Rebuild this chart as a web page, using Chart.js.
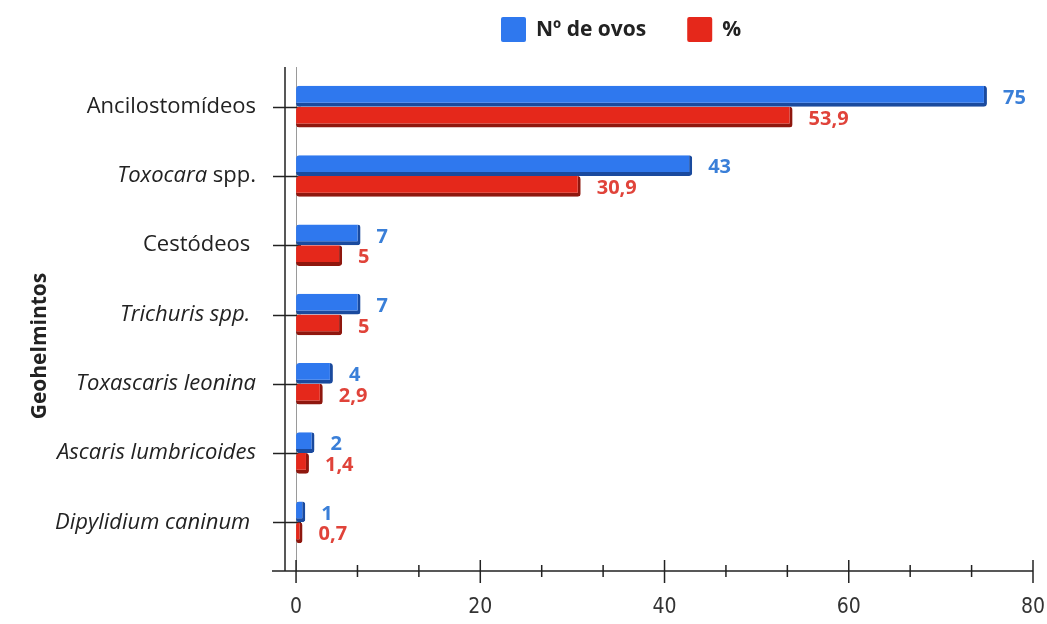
<!DOCTYPE html>
<html>
<head>
<meta charset="utf-8">
<script src="https://cdn.jsdelivr.net/npm/chart.js@4.4.1/dist/chart.umd.min.js"></script>
<style>
  html, body { margin: 0; padding: 0; background: #fff; }
  #wrap { width: 1047px; height: 624px; position: relative; }
</style>
</head>
<body>
<div id="wrap"><canvas id="chart"></canvas></div>
<script>
// datos del gráfico
// *texto* = cursiva
const categories = [
    'Ancilostomídeos',
    '*Toxocara* spp.',
    'Cestódeos ',
    '*Trichuris spp.* ',
    '*Toxascaris leonina*',
    '*Ascaris lumbricoides*',
    '*Dipylidium caninum* '
];
const ovos = [75, 43, 7, 7, 4, 2, 1];
const percent = [53.9, 30.9, 5, 5, 2.9, 1.4, 0.7];
const seriesNames = ['Nº de ovos', '%'];
const axisTitle = 'Geohelmintos';
const xTicks = [0, 20, 40, 60, 80];

const azul = '#2f78ee';
const azulOscuro = '#1a4a9e';
const rojo = '#e5281b';
const rojoOscuro = '#8f170e';
const azulTexto = '#3a7fd8';
const rojoTexto = '#e0433a';
const fontSans = '"Open Sans", "Noto Sans", sans-serif';
const fontNum = '"Liberation Sans Narrow", "DejaVu Sans Condensed", Roboto, sans-serif';

const fmt = v => String(v).replace('.', ',');

const customDraw = {
    id: 'customDraw',
    beforeDatasetsDraw(chart) {
        const { ctx, chartArea } = chart;
        const x = chart.scales.x;
        const y = chart.scales.y;
        ctx.save();
        // línea gris del cero
        const zx = Math.round(x.getPixelForValue(0)) + 0.5;
        ctx.strokeStyle = '#9a9a9a';
        ctx.lineWidth = 1;
        ctx.beginPath();
        ctx.moveTo(zx, chartArea.top - 5);
        ctx.lineTo(zx, chartArea.bottom + 14);
        ctx.stroke();
        // marcas de categoría
        ctx.strokeStyle = '#222';
        ctx.lineWidth = 1.5;
        categories.forEach((c, i) => {
            const py = Math.round(y.getPixelForValue(i)) + 0.5;
            ctx.beginPath();
            ctx.moveTo(chartArea.left - 12, py);
            ctx.lineTo(chartArea.left + 16, py);
            ctx.stroke();
        });
        ctx.restore();
    },
    afterDraw(chart) {
        const { ctx, chartArea } = chart;
        const x = chart.scales.x;
        const y = chart.scales.y;
        ctx.save();

        // ejes
        const axisY = chartArea.bottom + 14;
        ctx.strokeStyle = '#222';
        ctx.lineWidth = 1.5;
        ctx.beginPath();
        ctx.moveTo(chartArea.left, chartArea.top - 5);
        ctx.lineTo(chartArea.left, axisY);
        ctx.moveTo(chartArea.left - 13, axisY);
        ctx.lineTo(chartArea.right, axisY);
        ctx.stroke();

        // marcas mayores y menores del eje x
        xTicks.forEach((t, i) => {
            const px = x.getPixelForValue(t);
            ctx.beginPath();
            ctx.moveTo(px, axisY - 11);
            ctx.lineTo(px, axisY + 12);
            ctx.stroke();
            if (i < xTicks.length - 1) {
                const step = (xTicks[i + 1] - t) / 3;
                for (let k = 1; k < 3; k++) {
                    const mx = x.getPixelForValue(t + k * step);
                    ctx.beginPath();
                    ctx.moveTo(mx, axisY - 6);
                    ctx.lineTo(mx, axisY + 6);
                    ctx.stroke();
                }
            }
        });

        // etiquetas de categoría (cursiva parcial)
        ctx.fillStyle = '#222';
        ctx.textBaseline = 'middle';
        categories.forEach((c, i) => {
            const py = y.getPixelForValue(i);
            const parts = c.split('*').map((t, k) => ({ text: t, italic: k % 2 === 1 })).filter(p => p.text);
            const fontOf = p => `${p.italic ? 'italic ' : ''}22px ${fontSans}`;
            let total = 0;
            parts.forEach(p => { ctx.font = fontOf(p); total += ctx.measureText(p.text).width; });
            let px = 256 - total;
            ctx.textAlign = 'left';
            parts.forEach(p => {
                ctx.font = fontOf(p);
                ctx.fillText(p.text, px, py);
                px += ctx.measureText(p.text).width;
            });
        });

        // título del eje y
        ctx.save();
        ctx.translate(40, 346);
        ctx.rotate(-Math.PI / 2);
        ctx.font = `bold 21px ${fontSans}`;
        ctx.textAlign = 'center';
        ctx.fillStyle = '#222';
        ctx.fillText(axisTitle, 0, 0);
        ctx.restore();

        // etiquetas de valores
        ctx.font = `bold 20px ${fontSans}`;
        ctx.textAlign = 'left';
        chart.data.datasets.forEach((ds, di) => {
            const meta = chart.getDatasetMeta(di);
            ctx.fillStyle = di === 0 ? azulTexto : rojoTexto;
            meta.data.forEach((bar, i) => {
                ctx.fillText(fmt(ds.data[i]), bar.x + 16, bar.y + 2);
            });
        });

        // leyenda
        let lx = 501;
        const ly = 30;
        ctx.font = `bold 21px ${fontSans}`;
        chart.data.datasets.forEach((ds, di) => {
            ctx.fillStyle = ds.backgroundColor;
            ctx.beginPath();
            ctx.roundRect(lx, ly - 13, 25, 25, 2);
            ctx.fill();
            ctx.fillStyle = '#222';
            ctx.fillText(ds.label, lx + 35, ly);
            lx += 35 + ctx.measureText(ds.label).width + 41;
        });

        ctx.restore();
    }
};

new Chart(document.getElementById('chart'), {
    type: 'bar',
    data: {
        labels: categories,
        datasets: [
            {
                label: seriesNames[0],
                data: ovos,
                backgroundColor: azul,
                borderColor: azulOscuro,
                borderWidth: { top: 0, left: 0, right: 3, bottom: 4 },
                borderRadius: 3,
                borderSkipped: false
            },
            {
                label: seriesNames[1],
                data: percent,
                backgroundColor: rojo,
                borderColor: rojoOscuro,
                borderWidth: { top: 0, left: 0, right: 3, bottom: 4 },
                borderRadius: 3,
                borderSkipped: false
            }
        ]
    },
    options: {
        indexAxis: 'y',
        responsive: true,
        maintainAspectRatio: false,
        animation: false,
        layout: { padding: { left: 285, top: 72, right: 14, bottom: 0 } },
        datasets: { bar: { categoryPercentage: 0.6, barPercentage: 1 } },
        plugins: {
            legend: { display: false },
            tooltip: { enabled: false }
        },
        scales: {
            x: {
                min: -1.2,
                max: 80,
                grid: { display: false, drawTicks: false },
                border: { display: false },
                ticks: {
                    stepSize: 20,
                    includeBounds: false,
                    padding: 38,
                    color: '#333',
                    font: { family: fontNum, size: 21 }
                },
                afterFit: (scale) => {
                    scale.height = 67;
                    scale.paddingLeft = 0;
                    scale.paddingRight = 0;
                }
            },
            y: {
                display: false
            }
        }
    },
    plugins: [customDraw]
});
</script>
</body>
</html>
